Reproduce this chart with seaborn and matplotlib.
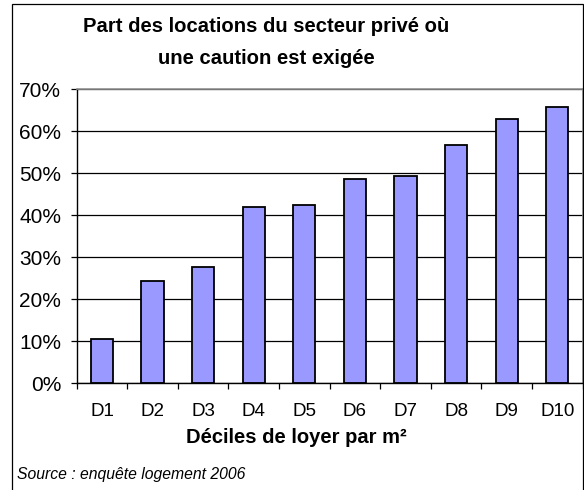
import matplotlib
matplotlib.use("Agg")
import matplotlib.pyplot as plt
import matplotlib.patches as mpatches
from matplotlib.ticker import FuncFormatter, FixedLocator
import seaborn as sns
import pandas as pd

categories = ["D1", "D2", "D3", "D4", "D5", "D6", "D7", "D8", "D9", "D10"]
values = [10.5, 24.4, 27.6, 42.0, 42.4, 48.6, 49.4, 56.7, 62.9, 65.7]
title_lines = ["Part des locations du secteur privé où", "une caution est exigée"]
x_label = "Déciles de loyer par m²"
source = "Source : enquête logement 2006"

sns.set_theme(style="white")
plt.rcParams['font.family'] = ['Liberation Sans', 'DejaVu Sans']

fig = plt.figure(figsize=(5.84, 4.90), dpi=100)
ax = fig.add_axes([76.7/584, 1-383.3/490, (582.5-76.7)/584, (383.3-89.3)/490])

df = pd.DataFrame({"cat": categories, "val": values})
sns.barplot(data=df, x="cat", y="val", color="#9999FF", saturation=1,
            edgecolor="black", linewidth=1.3, width=0.44, ax=ax, zorder=3)

ax.set_ylim(0, 70)
ax.set_xlim(-0.5, len(categories) - 0.5)
ax.yaxis.set_major_locator(FixedLocator(list(range(0, 80, 10))))
ax.yaxis.set_major_formatter(FuncFormatter(lambda v, p: f"{int(round(v))}%"))
ax.set_axisbelow(True)
ax.yaxis.grid(True, color="black", linewidth=0.9)
ax.xaxis.grid(False)

ax.set_xlabel("")
ax.set_ylabel("")

for s in ["left", "bottom"]:
    ax.spines[s].set_color("black")
    ax.spines[s].set_linewidth(1.0)
for s in ["top", "right"]:
    ax.spines[s].set_color("#909090")
    ax.spines[s].set_linewidth(1.2)
ax.spines["bottom"].set_zorder(4)

ax.tick_params(axis="y", which="major", left=True, length=4.3, width=0.9,
               color="black", direction="out", pad=7, labelsize=15, labelcolor="black")
ax.tick_params(axis="x", which="major", bottom=True, length=0, pad=14,
               labelsize=13.5, labelcolor="black")
ax.xaxis.set_minor_locator(FixedLocator([i + 0.5 for i in range(-1, len(categories))]))
ax.tick_params(axis="x", which="minor", bottom=True, length=4.3, width=0.9,
               color="black", direction="out")

fig.text(266/584, 1-26/490, title_lines[0], ha="center", va="center",
         fontsize=14.6, fontweight="bold", color="black")
fig.text(266/584, 1-58/490, title_lines[1], ha="center", va="center",
         fontsize=14.6, fontweight="bold", color="black")
fig.text(296/584, 1-437/490, x_label, ha="center", va="center",
         fontsize=14.5, fontweight="bold", color="black")
fig.text(17/584, 1-474/490, source, ha="left", va="center",
         fontsize=11.3, style="italic", color="black")

frame = mpatches.Rectangle((12/584, -10/490), (582.5-12)/584, (496)/490,
                           transform=fig.transFigure, fill=False,
                           edgecolor="black", linewidth=0.9)
fig.patches.append(frame)

fig.savefig("out.png", dpi=100, facecolor="white")
